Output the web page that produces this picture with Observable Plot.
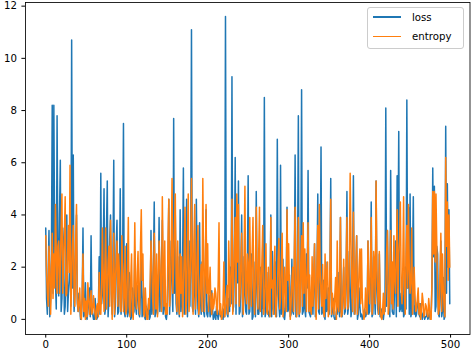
<!DOCTYPE html>
<html><head><meta charset="utf-8">
<script src="https://cdn.jsdelivr.net/npm/d3@7"></script>
<script src="https://cdn.jsdelivr.net/npm/@observablehq/plot@0.6"></script>
<style>
body{margin:0;background:#fff;}
#wrap{position:relative;width:472px;height:352px;}
.legend{position:absolute;left:367px;top:7px;width:97px;height:42px;border:1px solid #cccccc;border-radius:3px;background:rgba(255,255,255,0.8);font:10.2px "DejaVu Sans";color:#000;box-sizing:border-box;}
.legend .row{position:absolute;left:5px;height:12px;display:flex;align-items:center;}
.legend .sw{width:28px;height:1.5px;margin-right:11px;}
</style></head>
<body><div id="wrap"></div>
<script>
const seriesNames = ["loss", "entropy"];
const seriesColors = ["#1f77b4", "#ff7f0e"];
const xTicks = [0, 100, 200, 300, 400, 500];
const yTicks = [0, 2, 4, 6, 8, 10, 12];
const lossValues = [
3.5,0.8,0.2,1.8,3.4,0.1,0.8,2.5,8.2,1.0, 8.2,3.0,1.5,0.4,7.8,2.2,0.9,4.0,6.1,0.3,
0.8,3.5,2.9,0.2,0.5,2.0,4.0,0.3,1.0,1.5, 3.0,0.5,10.7,1.2,6.3,0.3,1.0,2.5,4.0,0.6,
0.3,1.0,0.5,0.0,0.1,0.8,3.5,0.1,0.2,1.4, 0.1,0.0,0.3,0.6,1.2,0.1,3.2,0.4,0.2,0.0,
0.0,0.8,0.3,0.0,0.1,0.4,2.4,0.2,5.6,0.6, 1.0,2.6,5.0,0.2,0.5,3.4,5.3,0.1,0.8,3.1,
4.0,1.0,0.2,2.3,6.1,0.1,0.5,2.8,3.8,0.2, 0.3,1.6,5.0,0.2,0.8,2.4,7.5,0.3,0.1,1.3,
2.9,0.1,0.3,1.8,1.5,0.0,0.1,1.2,0.2,0.3, 2.6,0.5,0.2,1.3,1.0,0.2,0.1,1.0,2.5,0.1,
0.3,1.2,0.1,0.0,0.5,0.3,0.2,0.6,0.0,0.1, 3.4,0.2,0.5,2.1,4.5,0.1,0.3,1.7,0.2,1.0,
3.9,0.3,1.0,2.0,3.8,0.2,0.4,1.5,0.1,0.0, 0.3,1.8,4.6,0.2,1.5,3.0,1.2,0.3,7.7,1.0,
4.0,0.6,0.2,2.4,0.5,0.1,4.2,0.3,0.8,2.0, 5.8,0.2,1.5,2.0,4.6,0.1,1.2,3.0,0.5,2.2,
11.1,0.5,0.3,2.5,1.0,0.2,4.6,1.8,0.4,0.1, 3.7,0.8,0.2,2.2,1.3,0.3,0.1,1.5,4.2,0.2,
0.1,0.6,0.9,0.1,0.2,1.1,0.4,0.0,0.1,0.3, 0.0,0.5,0.2,0.0,0.3,0.4,0.1,0.1,0.2,0.0,
0.4,0.1,11.6,1.0,0.2,0.1,0.8,0.3,2.0,0.6, 9.3,0.3,0.5,2.2,6.2,0.2,3.0,1.4,5.3,0.2,
0.3,2.0,4.0,0.1,0.5,2.4,1.0,0.3,0.2,1.5, 5.5,0.2,0.3,1.6,2.5,0.0,0.1,2.2,0.6,0.1,
4.9,1.3,0.2,0.2,0.5,2.0,1.0,0.1,2.8,0.4, 8.5,0.1,0.3,1.8,0.4,0.2,0.1,0.5,4.0,0.1,
2.6,0.4,0.2,1.5,2.2,0.1,6.9,1.8,0.5,0.1, 5.9,0.2,0.3,2.3,0.1,0.0,0.4,1.5,4.3,0.3,
0.4,1.7,0.1,0.2,2.3,0.3,0.2,1.9,6.3,0.1, 0.2,2.4,7.8,0.1,0.5,2.0,8.8,0.2,0.3,1.4,
0.4,0.1,2.5,1.2,5.7,0.3,0.2,0.1,1.0,1.6, 0.2,1.4,2.9,0.1,0.4,1.8,4.8,0.3,0.2,2.0,
6.6,0.2,0.3,1.5,0.1,0.0,2.2,0.3,0.4,1.2, 0.2,1.6,5.4,0.1,0.3,0.8,0.1,0.0,0.0,0.3,
0.2,1.8,0.4,0.1,3.9,0.3,0.1,1.0,2.0,0.2, 0.3,1.5,4.9,0.2,0.5,2.6,1.2,0.1,0.4,1.8,
5.5,0.2,0.3,1.8,3.2,0.0,0.2,1.2,0.5,0.1, 0.2,0.0,0.1,0.3,0.4,0.1,0.2,0.4,3.0,0.2,
0.3,1.6,4.5,0.1,0.2,2.4,1.0,0.2,5.3,1.2, 0.4,0.2,2.5,0.1,0.2,0.4,0.1,0.0,0.3,0.3,
8.1,0.5,3.4,1.5,0.4,0.1,5.7,1.8,0.3,0.2, 0.2,1.5,3.0,0.1,5.5,2.4,7.2,0.3,0.4,1.0,
0.3,1.8,0.1,0.2,2.0,0.4,8.4,1.2,4.3,0.2, 4.8,0.1,0.3,2.2,4.7,0.2,0.5,0.1,0.2,0.6,
0.8,0.2,0.1,0.6,0.3,0.0,0.2,0.3,0.0,0.1, 0.1,0.3,0.0,0.1,0.3,0.0,0.2,1.2,5.8,2.4,
5.1,0.3,0.5,2.8,2.5,0.2,0.1,1.0,3.0,0.1, 0.3,1.6,0.0,0.1,7.4,1.0,5.2,2.0,4.2,0.6
];
const entropyValues = [
3.2,1.8,1.0,0.5,2.8,2.0,0.2,1.5,3.3,0.8, 2.5,1.2,4.4,2.5,1.0,2.8,3.0,1.0,2.0,3.5,
4.8,1.0,2.2,3.2,4.7,0.9,1.0,2.5,3.6,1.8, 5.9,0.2,1.5,2.8,3.6,1.0,0.5,3.0,4.4,0.8,
0.3,0.6,1.2,0.1,0.0,1.0,2.5,0.3,0.8,0.0, 0.7,0.1,1.4,0.9,0.2,0.6,1.1,0.2,0.3,0.9,
0.5,0.2,0.0,0.5,0.6,0.1,1.8,0.4,0.2,1.2, 3.5,1.5,0.3,2.0,3.5,0.4,1.0,2.2,2.8,0.5,
3.8,2.4,0.0,1.2,3.3,0.2,1.5,2.2,3.0,0.5, 2.5,1.8,0.5,0.3,3.2,2.0,0.3,0.9,2.8,0.2,
0.4,2.0,3.9,0.5,0.1,1.5,2.5,0.3,0.0,1.2, 3.7,1.0,0.4,1.8,2.6,0.5,0.2,2.8,4.2,1.5,
2.5,0.2,0.1,1.2,0.5,0.0,0.0,0.8,0.4,1.5, 3.0,2.0,0.8,0.2,3.3,1.8,0.4,2.5,0.1,1.2,
3.0,2.2,1.2,0.3,4.7,2.0,0.5,3.0,0.2,0.6, 0.2,3.0,4.6,0.5,1.0,2.8,5.4,1.0,2.0,3.5,
4.8,1.5,0.3,3.0,1.0,0.2,2.5,1.0,2.4,0.1, 1.0,2.5,4.3,0.2,0.8,3.0,4.8,0.3,1.2,2.5,
5.4,1.8,0.2,3.0,4.4,0.4,1.0,2.5,3.6,0.2, 0.5,1.5,2.1,0.3,5.4,2.2,0.3,1.8,4.4,1.0,
2.9,0.3,1.2,2.0,0.5,0.2,1.0,0.4,0.6,1.2, 1.0,0.5,0.2,1.5,3.7,0.2,0.6,0.0,0.1,0.6,
2.2,0.1,0.3,0.7,1.3,0.2,3.0,1.5,0.5,2.0, 4.6,0.2,1.5,2.8,3.9,0.6,4.8,2.2,4.4,0.5,
1.0,2.2,3.3,0.8,0.2,2.5,5.1,1.0,0.6,2.5, 2.0,0.4,3.9,1.5,0.5,2.6,3.9,0.8,0.2,2.0,
4.3,1.5,0.4,2.5,4.3,0.3,1.2,2.2,3.6,0.2, 0.5,1.5,2.9,0.3,0.2,2.0,0.8,0.1,3.9,1.2,
1.5,0.2,2.0,2.8,0.1,0.6,1.0,2.3,3.1,0.4, 0.8,2.2,3.3,0.1,0.5,2.0,1.2,0.3,4.2,1.5,
2.9,1.2,0.0,0.6,1.5,2.0,0.3,2.5,4.3,0.8, 0.1,2.0,3.9,0.2,0.3,2.2,3.2,0.5,3.7,1.0,
2.7,1.5,0.3,2.0,3.7,0.3,1.7,0.4,0.2,2.4, 0.5,1.6,2.9,0.8,0.0,2.2,3.6,0.4,4.4,1.8,
1.0,0.5,2.1,0.3,0.1,2.5,0.8,1.8,2.2,0.1, 0.4,2.0,4.6,0.2,1.0,0.6,0.2,0.9,1.6,0.0,
3.0,0.5,0.3,1.8,3.9,0.1,0.2,1.0,2.3,0.4, 0.5,2.2,3.9,0.4,0.7,2.5,5.6,3.0,1.0,0.3,
4.1,1.6,0.2,2.0,3.2,0.2,0.8,2.0,2.7,0.6, 2.7,0.8,0.3,0.0,0.2,1.2,0.5,0.2,3.0,1.3,
0.6,2.0,3.9,0.2,0.5,2.6,2.2,0.6,5.3,2.0, 1.0,0.2,2.6,0.8,0.1,0.0,0.3,1.0,0.2,0.5,
1.2,2.5,3.4,0.2,0.5,2.0,3.4,0.6,2.2,0.4, 3.2,1.6,1.0,2.4,4.2,0.5,2.5,3.0,4.5,1.2,
0.6,2.0,4.7,1.0,0.2,2.5,3.6,1.2,4.4,2.0, 1.0,1.5,3.5,0.2,0.8,2.0,1.0,0.3,0.4,0.8,
1.2,0.2,0.6,0.0,0.3,1.0,0.7,0.1,0.2,0.6, 0.5,0.2,0.1,0.8,0.4,0.0,0.0,1.5,4.9,2.5,
4.9,2.2,4.8,2.8,1.0,0.2,0.4,1.8,3.3,0.3, 2.5,1.2,0.5,0.1,6.2,2.8,4.5,1.5,4.0,2.0
];

const rows = [];
[lossValues, entropyValues].forEach((vals, s) => {
  vals.forEach((v, k) => rows.push({series: seriesNames[s], step: k, value: v}));
});

const chart = Plot.plot({
  width: 472, height: 352,
  marginLeft: 25, marginRight: 2.5, marginTop: 2, marginBottom: 18,
  style: {fontFamily: "'DejaVu Sans', sans-serif", fontSize: "10.2px", color: "#000", background: "#fff", overflow: "visible"},
  x: {domain: [-25, 524], ticks: xTicks, tickSize: 3.6, tickPadding: 3, label: null, tickFormat: d => String(d)},
  y: {domain: [-0.58, 12.14], ticks: yTicks, tickSize: 3.6, tickPadding: 5, label: null, tickFormat: d => String(d)},
  color: {domain: seriesNames, range: seriesColors},
  marks: [
    Plot.lineY(rows, {x: "step", y: "value", z: "series", stroke: "series", strokeWidth: 1.5, strokeLinejoin: "round"}),
    Plot.frame({stroke: "#000", strokeWidth: 0.85})
  ]
});
const wrap = document.getElementById("wrap");
wrap.appendChild(chart);

const leg = document.createElement("div");
leg.className = "legend";
seriesNames.forEach((name, i) => {
  const row = document.createElement("div");
  row.className = "row";
  row.style.top = (3 + i * 19.5) + "px";
  const sw = document.createElement("div");
  sw.className = "sw";
  sw.style.background = seriesColors[i];
  const t = document.createElement("span");
  t.textContent = name;
  row.appendChild(sw); row.appendChild(t);
  leg.appendChild(row);
});
wrap.appendChild(leg);
</script>
</body></html>
